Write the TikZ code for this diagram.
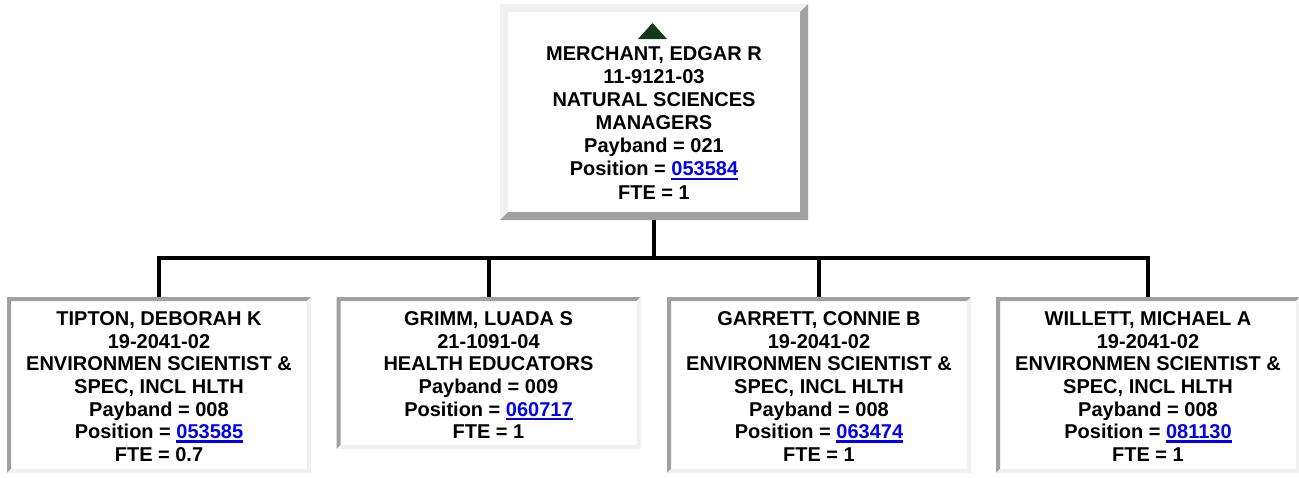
\documentclass[tikz,border=0pt]{standalone}
\usepackage{fontspec}
\setmainfont{Liberation Sans}
\definecolor{bdlight}{RGB}{240,240,240}
\definecolor{bddark}{RGB}{160,160,160}
\definecolor{linkblue}{RGB}{0,0,238}
\definecolor{tricol}{RGB}{18,58,24}
\newsavebox\lnkbox
\newcommand\poslink[1]{\textcolor{linkblue}{\sbox\lnkbox{#1}\rlap{\rule[-4.2pt]{\wd\lnkbox}{2.4pt}}\usebox\lnkbox}}
\newcommand\bevelborder[3]{%
  \fill[#1] (path picture bounding box.north west) -- (path picture bounding box.north east)
    -- ([shift={(-#3,-#3)}]path picture bounding box.north east)
    -- ([shift={(#3,-#3)}]path picture bounding box.north west)
    -- ([shift={(#3,#3)}]path picture bounding box.south west)
    -- (path picture bounding box.south west) -- cycle;
  \fill[#2] (path picture bounding box.south east) -- (path picture bounding box.north east)
    -- ([shift={(-#3,-#3)}]path picture bounding box.north east)
    -- ([shift={(-#3,#3)}]path picture bounding box.south east)
    -- ([shift={(#3,#3)}]path picture bounding box.south west)
    -- (path picture bounding box.south west) -- cycle;}
\tikzset{
  outsetbox/.style={minimum width=308pt, minimum height=216pt, inner sep=0pt, fill=white,
    path picture={\bevelborder{bdlight}{bddark}{8pt}}},
  insetbox/.style={minimum width=304pt, inner sep=0pt, fill=white,
    path picture={\bevelborder{bddark}{bdlight}{4pt}}},
  txt/.style={align=center, inner sep=0pt, anchor=north,
    font=\bfseries\fontsize{20pt}{22.6pt}\selectfont},
  toptxt/.style={txt, font=\bfseries\fontsize{20pt}{23.1pt}\selectfont},
  conn/.style={line width=4pt, black},
  uptri/.style={fill=tricol}
}
\begin{document}
\begin{tikzpicture}[x=1pt,y=-1pt]
\useasboundingbox (0,0) rectangle (1299,477);
\fill[white] (0,0) rectangle (1299,477);
% manager
\node[outsetbox] (mgr) at (654,112) {};
\fill[uptri] (638,39) -- (667,39) -- (652.5,23) -- cycle;
\node[toptxt] (mgrtxt) at ([yshift=-42.5pt]mgr.north) {MERCHANT, EDGAR R\\11-9121-03\\NATURAL SCIENCES\\MANAGERS\\Payband = 021\\Position = \poslink{053584}\\FTE = 1};
% subordinates
\node[insetbox, minimum height=176pt] (b1) at (159,385) {};
\node[insetbox, minimum height=152pt] (b2) at (488.5,373) {};
\node[insetbox, minimum height=176pt] (b3) at (819,385) {};
\node[insetbox, minimum height=176pt] (b4) at (1148,385) {};
\node[txt] (t1) at ([yshift=-14.7pt]b1.north) {TIPTON, DEBORAH K\\19-2041-02\\ENVIRONMEN SCIENTIST \&\\SPEC, INCL HLTH\\Payband = 008\\Position = \poslink{053585}\\FTE = 0.7};
\node[txt] (t2) at ([yshift=-14.7pt]b2.north) {GRIMM, LUADA S\\21-1091-04\\HEALTH EDUCATORS\\Payband = 009\\Position = \poslink{060717}\\FTE = 1};
\node[txt] (t3) at ([yshift=-14.7pt]b3.north) {GARRETT, CONNIE B\\19-2041-02\\ENVIRONMEN SCIENTIST \&\\SPEC, INCL HLTH\\Payband = 008\\Position = \poslink{063474}\\FTE = 1};
\node[txt] (t4) at ([yshift=-14.7pt]b4.north) {WILLETT, MICHAEL A\\19-2041-02\\ENVIRONMEN SCIENTIST \&\\SPEC, INCL HLTH\\Payband = 008\\Position = \poslink{081130}\\FTE = 1};
% connectors
\coordinate (bus) at (654,258);
\draw[conn] (mgr.south) -- (bus);
\draw[conn] (b1.north) -- (b1.north |- bus) -- (b4.north |- bus) -- (b4.north);
\draw[conn] (b2.north) -- (b2.north |- bus);
\draw[conn] (b3.north) -- (b3.north |- bus);
\end{tikzpicture}
\end{document}
